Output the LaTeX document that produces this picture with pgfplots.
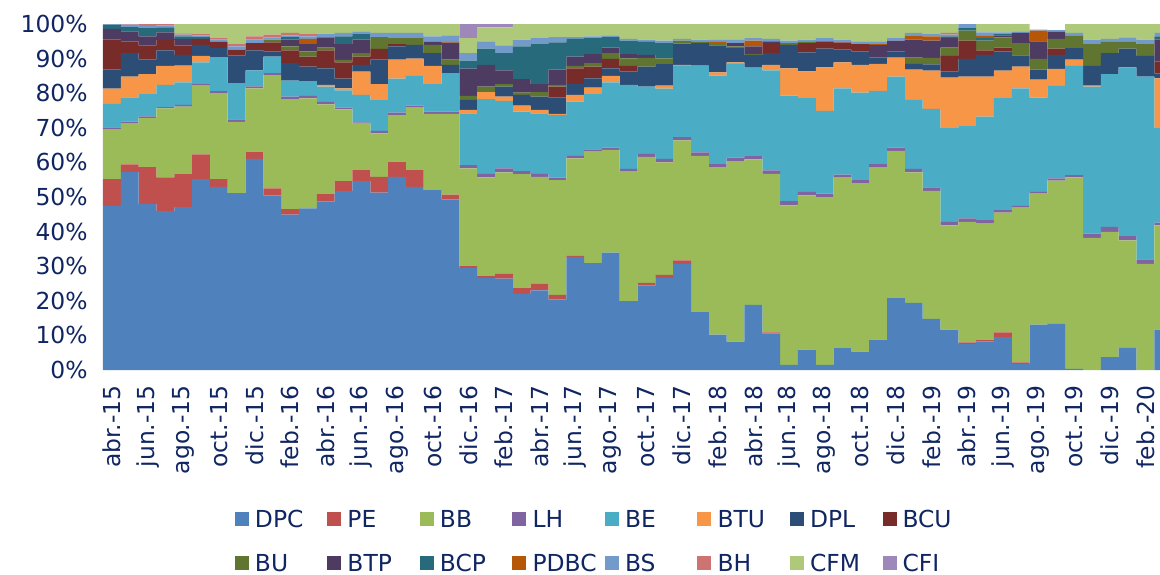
\documentclass[border=0pt]{standalone}
\usepackage{pgfplots}
\usepackage{pgfplotstable}
\pgfplotsset{compat=1.18}
\usepackage{fontspec}
\setmainfont{DejaVu Sans}
\definecolor{txt}{RGB}{16,38,98}
\definecolor{cDPC}{HTML}{4F81BD}
\definecolor{cPE}{HTML}{C0504D}
\definecolor{cBB}{HTML}{9BBB59}
\definecolor{cLH}{HTML}{8064A2}
\definecolor{cBE}{HTML}{4BACC6}
\definecolor{cBTU}{HTML}{F79646}
\definecolor{cDPL}{HTML}{2C4D75}
\definecolor{cBCU}{HTML}{772C2A}
\definecolor{cBU}{HTML}{5F7530}
\definecolor{cBTP}{HTML}{4D3B62}
\definecolor{cBCP}{HTML}{276A7C}
\definecolor{cPDBC}{HTML}{B65708}
\definecolor{cBS}{HTML}{729ACA}
\definecolor{cBH}{HTML}{CD7371}
\definecolor{cCFM}{HTML}{AFC97A}
\definecolor{cCFI}{HTML}{9E88BA}
\newcommand{\lab}{\fontsize{11.7}{14}\selectfont}
\newcommand{\legtxt}[1]{\makebox[36.25pt][l]{#1}}
\pgfplotsset{sqlegend/.style={legend image code/.code={\fill[##1] (0pt,-3.5pt) rectangle (7pt,3.5pt);}}}
\pgfplotstableread{
x DPC PE BB LH BE BTU DPL BCU BU BTP BCP PDBC BS BH CFM CFI
0 47.4 7.8 14.3 0.6 6.8 4.4 5.5 8.7 0 3.1 1.2 0 0.2 0 0 0
1 57.2 2.2 11.8 0.6 7.0 6.0 6.8 3.4 0 2.9 1.2 0 0.7 0.2 0 0
2 48.0 10.6 14.2 0.5 6.4 5.8 4.3 4.0 0 2.6 2.4 0 0.6 0.6 0 0
3 45.9 9.8 19.9 0.4 6.4 5.5 4.5 3.0 0 2.2 1.4 0 0.6 0.4 0 0
4 47.1 9.5 19.5 0.5 6.5 4.9 3.1 2.7 0 1.9 0.7 0 0.5 0.4 2.7 0
5 55.2 7.1 19.9 0.4 6.3 1.9 3.2 1.7 0 0 0.5 0 0.5 0.4 2.9 0
6 52.9 2.3 24.8 0.6 9.8 0 2.6 1.8 0 0 0 0 0.7 0.4 4.1 0
7 51.1 0 20.6 0.7 10.5 0 8.0 1.7 0 0 0 0 0.9 0.7 5.8 0
8 61.0 2.1 18.3 0.6 4.6 0 5.8 2.1 0 0 0 0 1.0 0.9 3.6 0
9 50.5 2.0 32.7 0.6 4.8 0 1.5 2.6 0.8 0 0 0 0.6 0.8 3.1 0
10 44.9 1.6 31.8 0.7 4.6 0 5.1 3.7 1.1 2.0 0.7 0 0.5 0.7 2.6 0
11 46.7 0 31.8 0.7 4.3 0 4.2 2.9 1.5 2.1 0 1.5 0.7 0.8 2.8 0
12 48.7 2.1 26.0 0.7 4.4 0.5 4.8 5.2 0.8 2.9 0 0 1.1 0 2.8 0
13 51.7 2.9 20.7 0.5 5.0 0.6 2.8 4.7 0.7 4.6 2.2 0 1.0 0 2.6 0
14 54.6 3.2 13.4 0.4 7.9 6.7 2.0 2.4 1.0 3.9 1.6 0 0.8 0 2.1 0
15 51.3 4.5 12.6 0.7 8.9 4.6 7.1 3.1 3.4 0 0 0 1.2 0 2.6 0
16 55.8 4.4 13.5 0.7 9.8 5.5 3.8 0.7 1.7 0 0 0 1.5 0 2.6 0
17 52.9 4.9 18.0 0.6 8.6 5.0 4.0 0 1.9 0 0 0 1.5 0 2.6 0
18 52.0 0 22.0 0.7 7.9 5.3 3.7 0 2.4 0.8 0 0 1.6 0 3.6 0
19 49.3 1.4 23.3 0.7 11.1 0 2.4 0 1.5 4.9 0 0.4 1.7 0 3.3 0
20 29.5 0.7 28.1 0.9 15.0 1.0 2.9 0 1.1 7.9 2.3 0 2.2 0 4.3 4.1
21 26.6 0.5 28.6 1.0 21.6 2.0 0 0 1.6 6.3 4.7 0 2.1 0 4.0 1.0
22 26.4 1.4 29.3 1.2 19.5 1.2 2.9 0 0.7 4.0 5.0 0 2.2 0 5.2 1.0
23 22.0 1.7 32.9 0.9 17.2 1.7 3.1 0 0.7 3.9 9.4 0 2.0 0 4.5 0
24 23.0 1.9 30.9 0.9 17.5 1.0 3.8 0 1.3 2.3 11.6 0 1.7 0 4.1 0
25 20.4 1.3 33.2 0.7 18.1 0.3 4.7 3.2 0.5 4.4 7.9 0 1.5 0 3.8 0
26 32.7 0.3 28.2 0.7 15.7 1.9 3.2 4.5 0.7 2.7 5.1 0 0.5 0 3.8 0
27 30.9 0 32.2 0.7 15.9 1.9 2.7 3.4 1.0 2.6 4.6 0 0.5 0 3.6 0
28 33.9 0 29.7 0.7 18.8 1.9 2.2 2.7 1.7 1.6 3.0 0 0.5 0 3.3 0
29 19.9 0 37.4 0.8 24.3 0 3.9 1.6 2.2 1.2 3.9 0 0.5 0 4.3 0
30 24.4 0.8 36.4 0.9 19.4 0 5.8 0 2.5 0.9 3.9 0 0.5 0 4.5 0
31 26.6 0.9 32.5 1.0 20.3 0.9 6.2 0 1.7 0 4.4 0 0.7 0 4.8 0
32 30.7 1.0 34.7 0.9 20.6 0.3 6.1 0 0.9 0 0 0 0.5 0 4.3 0
33 16.7 0 45.2 1.0 25.1 0 6.5 0 0.5 0 0 0 0.5 0 4.5 0
34 10.2 0 48.4 0.9 25.6 0.9 7.8 0 0.4 0 0 0.6 0.6 0 4.6 0
35 8.2 0 52.2 1.0 27.1 0.4 4.1 0 0.5 1.0 0 0 0.9 0 4.6 0
36 18.8 0 42.1 0.9 25.6 0 3.7 0 0.2 2.2 0 1.7 0.7 0 4.1 0
37 10.6 0.3 45.8 1.0 28.9 1.6 3.4 2.9 0 0.5 0 0 0.7 0 4.3 0
38 1.5 0 46.1 1.2 30.5 7.9 6.8 0 0.5 0 0 0 0.7 0 4.8 0
39 5.9 0 44.6 1.0 27.1 7.7 5.5 2.7 0.5 0 0 0 0.5 0 4.5 0
40 1.5 0 48.5 1.0 23.9 12.6 5.4 2.1 0 0 0 0 0.9 0 4.1 0
41 6.3 0 49.3 0.9 24.9 7.5 3.7 2.1 0 0 0 0 0.8 0 4.5 0
42 5.3 0 48.7 0.9 25.3 8.0 3.9 2.1 0 0 0 0 0.8 0 5.0 0
43 8.8 0 49.7 1.0 21.2 7.8 1.8 0 0 3.7 0 0.2 0.8 0 5.0 0
44 20.8 0 42.5 1.0 20.5 5.5 1.8 0 0 3.1 0 0 0.7 0 4.1 0
45 19.4 0 37.7 1.0 20.0 8.7 1.7 0 1.8 5.2 0 1.2 0.7 0 2.6 0
46 14.8 0 37.0 1.0 22.7 11.0 1.8 0 1.9 5.0 0 1.2 0.7 0 2.9 0
47 11.7 0 30.1 1.0 27.1 14.6 1.8 4.5 2.4 2.7 0.5 0 0.5 0.5 2.6 0
48 7.5 0.5 34.8 1.0 26.7 14.3 5.1 5.3 2.9 0 0.7 0 1.2 0 0 0
49 8.2 0.6 33.5 1.0 29.9 11.6 6.3 1.3 2.8 0 0.8 0.7 0.9 0 2.4 0
50 9.5 1.4 34.6 0.7 32.4 7.9 5.6 1.1 2.9 0.6 0.5 0 0.4 0 2.4 0
51 1.7 0.5 44.7 0.5 34.0 6.3 3.2 0 3.6 2.9 0 0 0.5 0 2.1 0
52 13.1 0 37.9 0.5 27.2 5.2 2.9 0 3.1 5.1 0 3.1 0.3 0 0 0
53 13.3 0 41.4 0.7 26.7 4.9 4.1 1.8 2.8 2.0 0 0 0.5 0 0 0
54 0.3 0 55.4 0.6 31.6 1.8 3.3 0 3.7 0 0 0 0.7 0 2.6 0
55 0 0 38.2 1.2 42.5 0.3 5.7 0 6.3 0 0 0 1.3 0 4.5 0
56 3.7 0 36.2 1.5 44.1 0 6.1 0 3.2 0 0 0 0.9 0 4.3 0
57 6.4 0 31.1 1.2 48.8 0 5.4 0 2.1 0 0 0 1.1 0 3.9 0
58 0 0 30.7 1.3 52.8 0 6.0 0 3.4 0 0 0 1.3 0 4.5 0
59 11.7 0 30.1 0.8 27.3 14.4 1.4 3.5 0 6.3 0.9 0 1.0 0 2.6 0
}\data
\begin{document}
\begin{tikzpicture}
\useasboundingbox (0,0) rectangle (580pt,287pt);
\begin{axis}[
  at={(51.5pt,102pt)}, anchor=south west,
  scale only axis, width=528.5pt, height=173pt,
  ybar stacked, bar width=1,
  xmin=-0.5, xmax=58.82, ymin=0, ymax=100,
  axis line style={draw=none}, tick style={draw=none},
  major tick length=0pt,
  clip=true,
  xtick={0,2,...,58},
  xticklabels={abr.-15,jun.-15,ago.-15,oct.-15,dic.-15,feb.-16,abr.-16,jun.-16,ago.-16,oct.-16,dic.-16,feb.-17,abr.-17,jun.-17,ago.-17,oct.-17,dic.-17,feb.-18,abr.-18,jun.-18,ago.-18,oct.-18,dic.-18,feb.-19,abr.-19,jun.-19,ago.-19,oct.-19,dic.-19,feb.-20},
  xticklabel style={rotate=90, anchor=east, inner sep=0pt, font=\lab, text=txt},
  xticklabel shift=7.5pt,
  ytick={0,10,...,100},
  /pgf/number format/assume math mode=true,
  yticklabel={\pgfmathprintnumber{\tick}\%},
  yticklabel style={inner sep=0pt, font=\lab, text=txt},
  yticklabel shift=7.5pt,
  every axis plot post/.append style={sqlegend},
  legend columns=8,
  legend cell align=left,
  legend style={draw=none, fill=none, inner sep=0pt, outer sep=0pt,
    at={(0.12488,-0.405)}, anchor=north west,
    font=\lab, text=txt,
    /tikz/every odd column/.append style={column sep=3pt},
    /tikz/every even column/.append style={column sep=0pt},
    row sep=13.5pt,
    nodes={inner sep=0pt, text height=8.5pt, text depth=0pt}},
]
\addplot[fill=cDPC, draw=none] table[x=x,y=DPC]{\data}; \addlegendentry{\legtxt{DPC}}
\addplot[fill=cPE, draw=none] table[x=x,y=PE]{\data}; \addlegendentry{\legtxt{PE}}
\addplot[fill=cBB, draw=none] table[x=x,y=BB]{\data}; \addlegendentry{\legtxt{BB}}
\addplot[fill=cLH, draw=none] table[x=x,y=LH]{\data}; \addlegendentry{\legtxt{LH}}
\addplot[fill=cBE, draw=none] table[x=x,y=BE]{\data}; \addlegendentry{\legtxt{BE}}
\addplot[fill=cBTU, draw=none] table[x=x,y=BTU]{\data}; \addlegendentry{\legtxt{BTU}}
\addplot[fill=cDPL, draw=none] table[x=x,y=DPL]{\data}; \addlegendentry{\legtxt{DPL}}
\addplot[fill=cBCU, draw=none] table[x=x,y=BCU]{\data}; \addlegendentry{\legtxt{BCU}}
\addplot[fill=cBU, draw=none] table[x=x,y=BU]{\data}; \addlegendentry{\legtxt{BU}}
\addplot[fill=cBTP, draw=none] table[x=x,y=BTP]{\data}; \addlegendentry{\legtxt{BTP}}
\addplot[fill=cBCP, draw=none] table[x=x,y=BCP]{\data}; \addlegendentry{\legtxt{BCP}}
\addplot[fill=cPDBC, draw=none] table[x=x,y=PDBC]{\data}; \addlegendentry{\legtxt{PDBC}}
\addplot[fill=cBS, draw=none] table[x=x,y=BS]{\data}; \addlegendentry{\legtxt{BS}}
\addplot[fill=cBH, draw=none] table[x=x,y=BH]{\data}; \addlegendentry{\legtxt{BH}}
\addplot[fill=cCFM, draw=none] table[x=x,y=CFM]{\data}; \addlegendentry{\legtxt{CFM}}
\addplot[fill=cCFI, draw=none] table[x=x,y=CFI]{\data}; \addlegendentry{\legtxt{CFI}}
\end{axis}
\end{tikzpicture}
\end{document}
